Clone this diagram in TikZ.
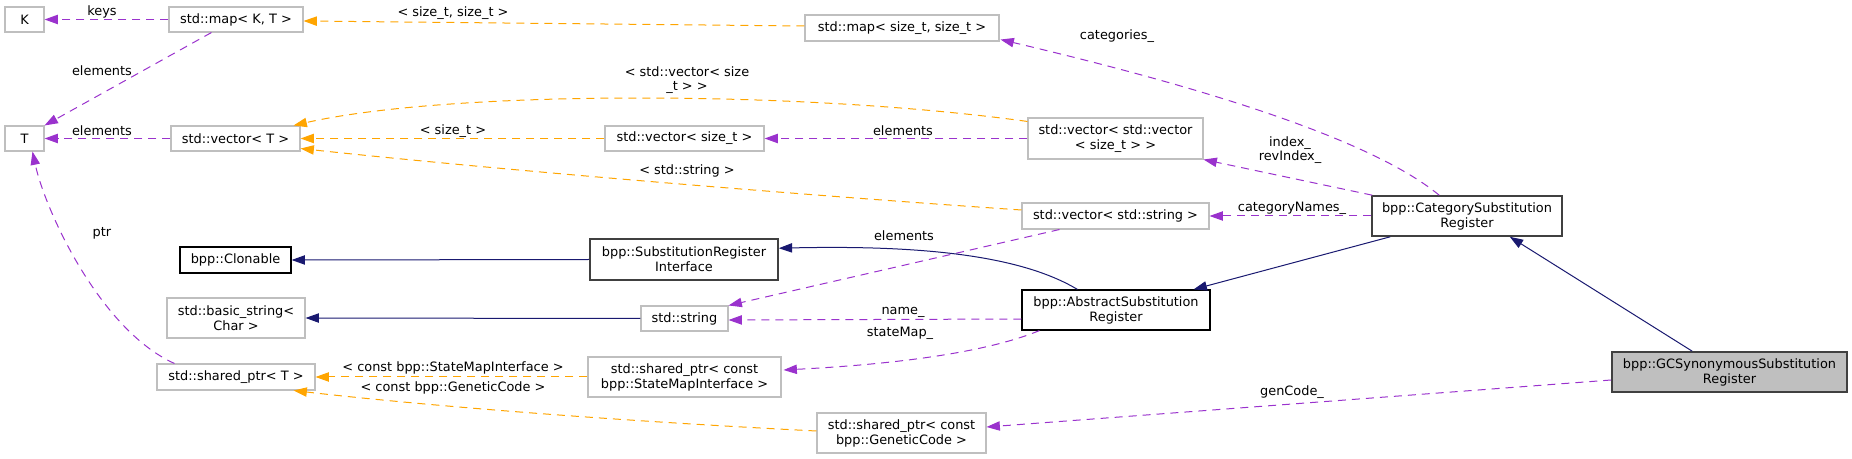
\documentclass[tikz,border=0pt]{standalone}
\usepackage{fontspec}
\setmainfont{DejaVu Sans}
\usetikzlibrary{arrows.meta,calc}
\definecolor{usecol}{HTML}{9A32CD}
\definecolor{tplcol}{HTML}{FFA500}
\definecolor{inhcol}{HTML}{191970}
\definecolor{graybd}{HTML}{BFBFBF}
\definecolor{darkbd}{HTML}{404040}
\definecolor{gcfill}{HTML}{BFBFBF}
\tikzset{
  cls/.style={draw, rectangle, inner sep=0pt, align=center, font=\fontsize{9.67}{11.25}\selectfont},
  ext/.style={cls, draw=graybd, line width=0.8pt},
  docb/.style={cls, draw=black, line width=0.9pt},
  docd/.style={cls, draw=darkbd, line width=1.2pt},
  tipstyle/.style={-{Triangle[length=10pt,width=7pt]}},
  usage/.style={draw=usecol, fill=none, line width=0.75pt, dash pattern=on 6pt off 4.5pt, tipstyle},
  tpl/.style={draw=tplcol, fill=none, line width=0.75pt, dash pattern=on 6pt off 4.5pt, tipstyle},
  inh/.style={draw=inhcol, fill=none, line width=0.75pt, tipstyle},
  lbl/.style={inner sep=0pt, align=center, font=\fontsize{9.67}{10.5}\selectfont},
}
\begin{document}
\begin{tikzpicture}[x=0.75pt,y=-0.75pt]
\useasboundingbox (0,0) rectangle (1852,459);
% nodes
\node[ext, minimum width=29.25pt, minimum height=18.75pt] (K) at (24.5,19.5) {K};
\node[ext, minimum width=100.5pt, minimum height=18.75pt] (mapKT) at (236,19.5) {std::map< K, T >};
\node[ext, minimum width=29.25pt, minimum height=18.75pt] (T) at (24.5,138.5) {T};
\node[ext, minimum width=96.75pt, minimum height=18.75pt] (vecT) at (235.5,138.5) {std::vector< T >};
\node[ext, minimum width=145.5pt, minimum height=19.5pt] (mapSS) at (902,28) {std::map< size\_t, size\_t >};
\node[ext, minimum width=119.25pt, minimum height=18.75pt] (vecS) at (684.5,138.5) {std::vector< size\_t >};
\node[ext, minimum width=131.25pt, minimum height=30.75pt] (vecvec) at (1115.5,138.5) {std::vector< std::vector\\< size\_t > >};
\node[ext, minimum width=140.25pt, minimum height=19.5pt] (vecstr) at (1115.5,216) {std::vector< std::string >};
\node[docd, minimum width=142.5pt, minimum height=30pt] (CSR) at (1467,216) {bpp::CategorySubstitution\\Register};
\node[docb, minimum width=83.25pt, minimum height=19.5pt] (clon) at (235.5,260) {bpp::Clonable};
\node[docd, minimum width=141pt, minimum height=30.75pt] (SRI) at (684,259.5) {bpp::SubstitutionRegister\\Interface};
\node[ext, minimum width=103.5pt, minimum height=30pt] (bstr) at (236,318) {std::basic\_string<\\Char >};
\node[ext, minimum width=65.25pt, minimum height=18.75pt] (str) at (684.5,318.5) {std::string};
\node[docb, minimum width=141pt, minimum height=30pt] (ASR) at (1116,310) {bpp::AbstractSubstitution\\Register};
\node[ext, minimum width=118.5pt, minimum height=19.5pt] (spT) at (236,377) {std::shared\_ptr< T >};
\node[ext, minimum width=144.75pt, minimum height=30pt] (spSMI) at (684.5,377) {std::shared\_ptr< const\\bpp::StateMapInterface >};
\node[ext, minimum width=126.75pt, minimum height=30pt] (spGC) at (901.5,433) {std::shared\_ptr< const\\bpp::GeneticCode >};
\node[docd, fill=gcfill, minimum width=176.25pt, minimum height=30pt] (GC) at (1729.5,372) {bpp::GCSynonymousSubstitution\\Register};
% edges
\draw[usage] (mapKT.west) -- (K.east);
\draw[usage] ($(mapKT.south west)+(43,0)$) -- (T.north east);
\draw[usage] (vecT.west) -- (T.east);
\draw[usage] ($(spT.north west)+(18,0)$) .. controls (100,330) and (45,210) .. ($(T.south)+(8,0)$);
\draw[tpl] ($(mapSS.west)+(0,-2)$) -- ($(mapKT.east)+(0,1.5)$);
\draw[tpl] ($(vecvec.north west)+(0,4)$) .. controls (800,90) and (450,90) .. ($(vecT.north east)+(-7,0)$);
\draw[tpl] (vecS.west) -- (vecT.east);
\draw[tpl] ($(vecstr.west)+(0,-6)$) .. controls (800,195) and (500,170) .. ($(vecT.south east)+(0,-3)$);
\draw[usage] (vecvec.west) -- (vecS.east);
\draw[usage] ($(CSR.north west)+(68,0)$) .. controls (1360,130) and (1150,75) .. ($(mapSS.south east)+(1,-2)$);
\draw[usage] ($(CSR.north west)+(1,0)$) -- (vecvec.south east);
\draw[usage] (CSR.west) -- (vecstr.east);
\draw[usage] ($(vecstr.south west)+(38,0)$) -- (str.north east);
\draw[inh] (SRI.west) -- (clon.east);
\draw[inh] ($(ASR.north west)+(56,0)$) .. controls (1020,255) and (920,245) .. ($(SRI.north east)+(0,10)$);
\draw[inh] (str.west) -- (bstr.east);
\draw[inh] ($(CSR.south west)+(19,0)$) -- ($(ASR.north east)+(-17,0)$);
\draw[inh] ($(GC.north west)+(81,0)$) -- ($(CSR.south east)+(-53,0)$);
\draw[usage] ($(ASR.west)+(0,9)$) -- ($(str.east)+(0,1.5)$);
\draw[usage] ($(ASR.south west)+(18,0)$) .. controls (980,355) and (880,365) .. ($(spSMI.east)+(2,-7)$);
\draw[tpl] (spSMI.west) -- (spT.east);
\draw[tpl] ($(spGC.west)+(0,-2)$) .. controls (600,420) and (420,405) .. ($(spT.south east)+(-22,0)$);
\draw[usage] ($(GC.west)+(0,8)$) -- ($(spGC.east)+(0,-6)$);
% labels
\node[lbl] (lkeys) at (102,12) {keys};
\node[lbl] (lel1) at (102,71) {elements};
\node[lbl] (lel2) at (102,131) {elements};
\node[lbl] (lptr) at (102,233) {ptr};
\node[lbl] (lss) at (453,13) {< size\_t, size\_t >};
\node[lbl] (lvv) at (687,80) {< std::vector< size\\\_t > >};
\node[lbl] (ls) at (453,131) {< size\_t >};
\node[lbl] (lel3) at (903,131) {elements};
\node[lbl] (lstr) at (687,171) {< std::string >};
\node[lbl] (lcat) at (1117,36) {categories\_};
\node[lbl] (lidx) at (1290,150) {index\_\\revIndex\_};
\node[lbl] (lcn) at (1292,208) {categoryNames\_};
\node[lbl] (lel4) at (904,236) {elements};
\node[lbl] (lname) at (903,312) {name\_};
\node[lbl] (lsm) at (900,333) {stateMap\_};
\node[lbl] (lsmi) at (453,368) {< const bpp::StateMapInterface >};
\node[lbl] (lgc) at (453,388) {< const bpp::GeneticCode >};
\node[lbl] (lgen) at (1292,392) {genCode\_};
\end{tikzpicture}
\end{document}
